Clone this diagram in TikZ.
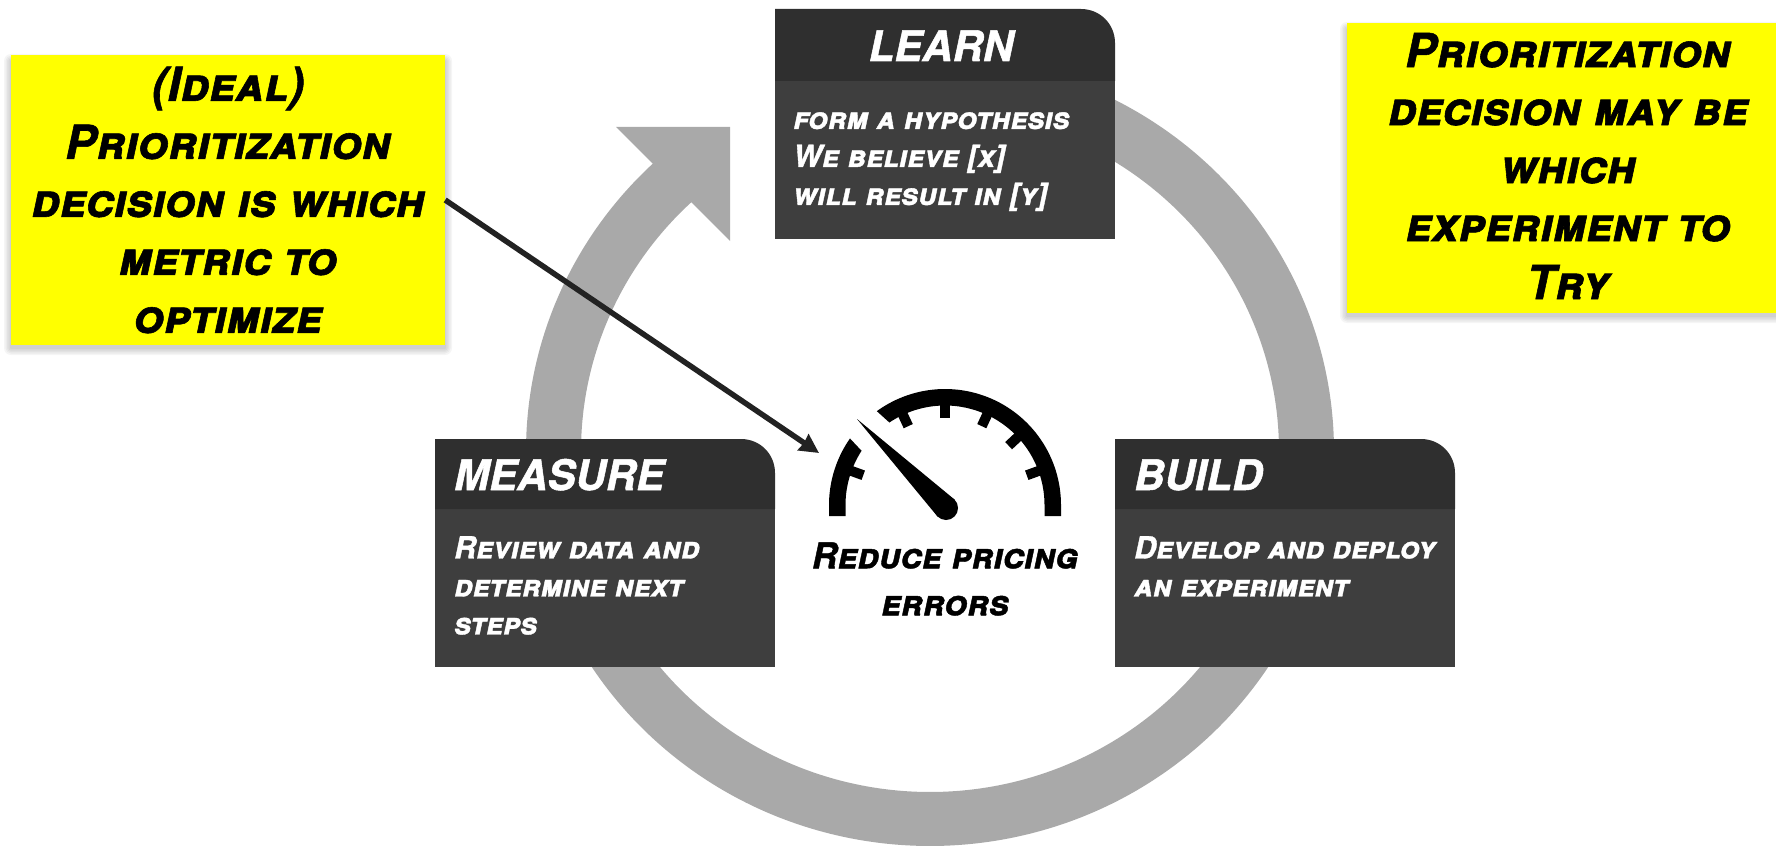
\documentclass[tikz,border=0pt]{standalone}
\usepackage{fontspec}
\usetikzlibrary{arrows.meta}
\newfontfamily\markerfont{texgyreheros-bolditalic.otf}[Letters=SmallCaps,FakeBold=1.2]
\definecolor{hdrgray}{HTML}{2F2F2F}
\definecolor{bodygray}{HTML}{3E3E3E}
\definecolor{ringgray}{HTML}{A9A9A9}
\definecolor{notey}{HTML}{FFFF00}
\definecolor{linedark}{HTML}{222222}
\tikzset{
  titletext/.style={text=white,font=\markerfont\fontsize{42}{50}\selectfont,inner sep=0pt},
  bodytext/.style={text=white,font=\markerfont\fontsize{30.5}{38}\selectfont,inner sep=0pt,align=left,anchor=north west},
  notebox/.style={fill=notey,inner sep=0pt,align=center,font=\markerfont\fontsize{47}{58}\selectfont,text=black},
  gaugetick/.style={draw=black,line width=10pt},
}
% #1 x, #2 y, #3 header height, #4 total height
\newcommand{\stagebg}[4]{%
  \fill[bodygray] (#1,#2+#3-1) rectangle (#1+340,#2+#4);
  \fill[hdrgray] (#1,#2+#3) -- (#1,#2) -- (#1+306,#2) .. controls (#1+325,#2) and (#1+340,#2+15) .. (#1+340,#2+34) -- (#1+340,#2+#3) -- cycle;
}
\newcommand{\softshadow}[4]{%
  \foreach \d in {7,5.5,...,0}{%
    \fill[black,opacity=0.04,rounded corners=\d pt] (#1-\d,#2-\d+6) rectangle (#3+\d,#4+\d+3);
  }%
}
\begin{document}
\begin{tikzpicture}[x=1pt,y=-1pt]
\useasboundingbox (0,0) rectangle (1776,848);
% cycle ring
\fill[ringgray] plot[smooth,domain=70:-229,samples=200] ({930+404*cos(\x)},{451-395*sin(\x)})
  -- plot[smooth,domain=-229:70,samples=200] ({930+349*cos(\x)},{451-341*sin(\x)}) -- cycle;
\fill[ringgray] (616,127) -- (730,127) -- (730,241) -- cycle;
% stages
\stagebg{775}{9}{72}{230}
\stagebg{435}{439}{70}{228}
\stagebg{1115}{439}{70}{228}
\node[titletext,anchor=base] (learntitle) at (941,61) {LEARN};
\node[bodytext] (learnbody) at (793,112) {form a hypothesis\\We believe [x]\\will result in [y]};
\node[titletext,anchor=base west] (measuretitle) at (454,490) {MEASURE};
\node[bodytext] (measurebody) at (454,536) {Review data and\\determine next\\steps};
\node[titletext,anchor=base west] (buildtitle) at (1134,490) {BUILD};
\node[bodytext] (buildbody) at (1134,536) {Develop and deploy\\an experiment};
% gauge
\fill[black] (829,516) -- (829,505) -- plot[domain=180:145,samples=30] ({945+116*cos(\x)},{505-116*sin(\x)})
  -- plot[domain=147:180,samples=30] ({945+99.5*cos(\x)},{505-99.5*sin(\x)}) -- (845.5,516) -- cycle;
\fill[black] (1061,516) -- (1061,505) -- plot[domain=0:126,samples=60] ({945+116*cos(\x)},{505-116*sin(\x)})
  -- plot[domain=124:0,samples=60] ({945+99.5*cos(\x)},{505-99.5*sin(\x)}) -- (1044.5,516) -- cycle;
\foreach \a in {20,43,65,90,115,160}{
  \draw[gaugetick] ({945+101*cos(\a)},{505-101*sin(\a)}) -- ({945+87*cos(\a)},{505-87*sin(\a)});
}
\fill[black] (857,419) -- (954.5,499.5) -- (937.5,516.5) -- cycle;
\fill[black] (946,508) circle[radius=12];
\node[inner sep=0pt,align=center,text=black,font=\markerfont\fontsize{35.5}{47}\selectfont] (goal) at (945,579) {Reduce pricing\\errors};
% notes
\softshadow{11}{55}{445}{345}
\node[notebox,minimum width=434pt,minimum height=290pt] (idealnote) at (228,200) {(Ideal)\\Prioritization\\decision is which\\metric to\\optimize};
\softshadow{1347}{23}{1789}{313}
\node[notebox,minimum width=442pt,minimum height=290pt] (maybenote) at (1568,168) {Prioritization\\decision may be\\which\\experiment to\\Try\rule[-4pt]{0pt}{4pt}};
% pointer
\coordinate (gaugeedge) at (819,453);
\draw[linedark,line width=5.5pt,-{Stealth[length=19pt,width=19pt,inset=1pt]}] (idealnote.east) -- (gaugeedge);
\end{tikzpicture}
\end{document}
